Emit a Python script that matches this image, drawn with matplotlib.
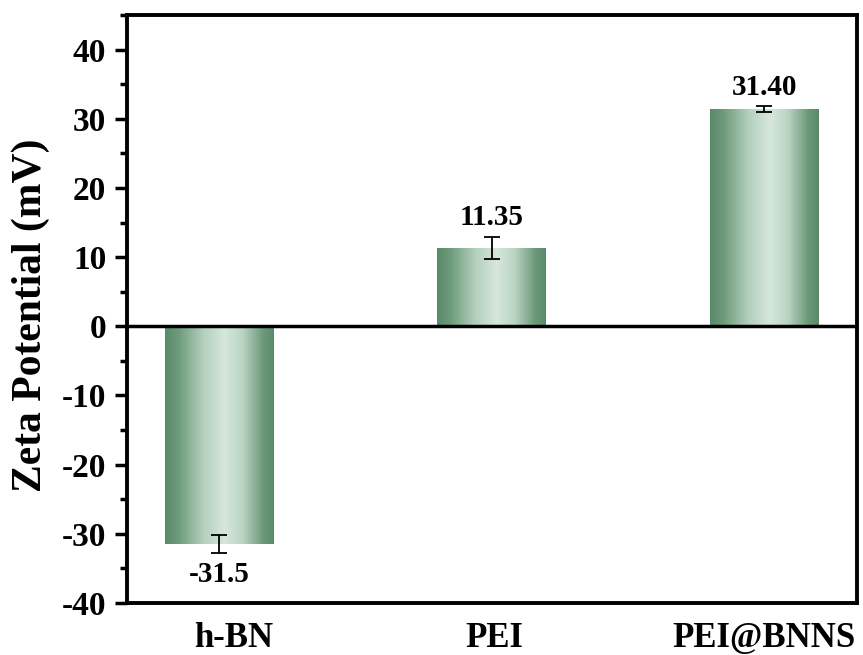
import numpy as np
import matplotlib.pyplot as plt
from matplotlib.colors import LinearSegmentedColormap
from matplotlib.ticker import MultipleLocator
from matplotlib.transforms import ScaledTranslation

categories = ["h-BN", "PEI", "PEI@BNNS"]
zeta = [-31.5, 11.35, 31.40]
errors = [1.3, 1.6, 0.4]
value_labels = ["-31.5", "11.35", "31.40"]

plt.rcParams['font.family'] = ['Liberation Serif', 'DejaVu Serif']
plt.rcParams['font.weight'] = 'bold'
plt.rcParams['axes.unicode_minus'] = False

fig = plt.figure(figsize=(8.63, 6.55), dpi=100)
ax = fig.add_axes([127/863, 1-603/655, (857-127)/863, (603-15)/655])

x = np.arange(len(categories))
width = 0.4
bars = ax.bar(x, zeta, width=width, color='none', edgecolor='none', zorder=2)

# horizontal green gradient inside each bar
cmap = LinearSegmentedColormap.from_list(
    'greenbar',
    [(0.0, '#5a8b69'), (0.12, '#6c9a7a'), (0.35, '#b3cfbd'), (0.55, '#d6e7dc'),
     (0.72, '#b9d3c2'), (0.9, '#6c997a'), (1.0, '#5a8b69')])
grad = np.linspace(0, 1, 256).reshape(1, -1)
for b in bars:
    x0 = b.get_x()
    x1 = x0 + b.get_width()
    y0 = min(0, b.get_height())
    y1 = max(0, b.get_height())
    im = ax.imshow(grad, cmap=cmap, aspect='auto', extent=[x0, x1, y0, y1],
                   zorder=2, interpolation='bicubic')
    im.set_clip_path(b)

ax.errorbar(x, zeta, yerr=errors, fmt='none', ecolor='black', elinewidth=1.3,
            capsize=5.5, capthick=1.3, zorder=3)

for xi, v, e, lab in zip(x, zeta, errors, value_labels):
    if v >= 0:
        ax.text(xi, v + e + 1.7, lab, ha='center', va='baseline', fontsize=21, fontweight='bold')
    else:
        ax.text(xi, v - e - 1.2, lab, ha='center', va='top', fontsize=21, fontweight='bold')

ax.axhline(0, color='black', linewidth=2.5, zorder=4)

ax.set_xlim(-0.338, 2.341)
ax.set_ylim(-40, 45)
ax.set_yticks([-40, -30, -20, -10, 0, 10, 20, 30, 40])
ax.yaxis.set_minor_locator(MultipleLocator(5))
ax.set_xticks(x)
ax.set_xticklabels(categories, fontsize=25, fontweight='bold')
ax.tick_params(axis='x', length=0, pad=14)
ax.tick_params(axis='y', which='major', direction='out', length=9, width=2.5, labelsize=24, pad=6)
ax.tick_params(axis='y', which='minor', direction='out', length=5, width=2.5)
for lbl in ax.get_yticklabels():
    lbl.set_fontweight('bold')

# small horizontal nudges of the category labels
shifts_px = [15, 3, 0]
for lbl, dx in zip(ax.get_xticklabels(), shifts_px):
    lbl.set_transform(lbl.get_transform() + ScaledTranslation(dx / 100, 0, fig.dpi_scale_trans))

for s in ax.spines.values():
    s.set_linewidth(2.8)

ax.set_ylabel('Zeta Potential (mV)', fontsize=30, fontweight='bold')
ax.yaxis.set_label_coords(-0.106, 0.49)

fig.savefig('out.png', dpi=100)
